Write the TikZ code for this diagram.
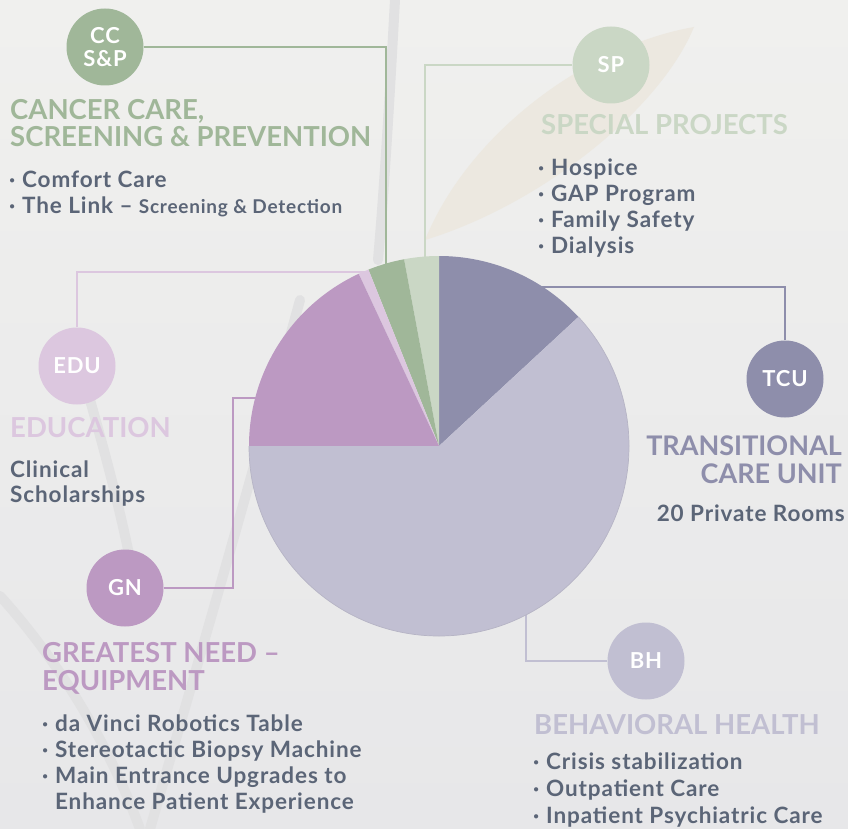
\documentclass[tikz,border=0pt]{standalone}
\usepackage{fontspec}
\setmainfont{Lato}
\newfontfamily\widefont[LetterSpace=4]{Lato}
\usetikzlibrary{positioning}
\definecolor{bgtop}{HTML}{F0F0EE}
\definecolor{bgbottom}{HTML}{E7E7E9}
\definecolor{stemgray}{HTML}{E1E1E2}
\definecolor{leafbeige}{HTML}{ECE8E0}
\definecolor{textgray}{HTML}{5B6577}
\definecolor{ccgreen}{HTML}{A0B799}
\definecolor{spgreen}{HTML}{CAD7C5}
\definecolor{tcublue}{HTML}{8E8EAB}
\definecolor{bhlilac}{HTML}{C1BFD2}
\definecolor{gnpurple}{HTML}{BC99C2}
\definecolor{edupink}{HTML}{DCC7DF}
\definecolor{pieedge}{HTML}{B6B4C5}
\tikzstyle{badge} = [circle, minimum size=77pt, inner sep=0pt, text=white, font=\widefont\bfseries\fontsize{22}{23}\selectfont, align=center]
\tikzstyle{heading} = [anchor=base west, inner sep=0pt, align=left, font=\bfseries\fontsize{27.5}{27.5}\selectfont]
\tikzstyle{items} = [anchor=base west, inner sep=0pt, align=left, text=textgray, font=\widefont\bfseries\fontsize{22.5}{25.5}\selectfont]
\tikzstyle{link} = [line width=2pt]
\tikzstyle{stem} = [stemgray, line width=10pt, line cap=round]
\newcommand{\itemdot}{·\hspace{0.3em}}

\begin{document}
\begin{tikzpicture}[x=1pt, y=1pt]
    \useasboundingbox (0,0) rectangle (848,-829);
    \shade [top color=bgtop, bottom color=bgbottom] (0,0) rectangle (848,-829);

    % Faint plant in the background
    \fill [leafbeige] (425,-240) .. controls (470,-130) and (590,-45) .. (694,-27)
        .. controls (660,-110) and (540,-205) .. (425,-240) -- cycle;
    \draw [stem] (0,-596) .. controls (40,-640) and (100,-720) .. (140,-829);
    \draw [stem] (150,-829) .. controls (190,-690) and (240,-520) .. (300,-300);
    \draw [stem] (395,0) .. controls (390,-90) and (385,-180) .. (378,-260);
    \draw [stem] (90,-400) .. controls (110,-470) and (125,-530) .. (135,-585);

    % Place the badges
    \node [badge, fill=ccgreen] (cc) at (105,-47) {CC\\S\&P};
    \node [badge, fill=spgreen] (sp) at (611,-65) {SP};
    \node [badge, fill=tcublue] (tcu) at (785,-379) {TCU};
    \node [badge, fill=edupink] (edu) at (77,-366) {EDU};
    \node [badge, fill=gnpurple] (gn) at (125,-588) {GN};
    \node [badge, fill=bhlilac] (bh) at (646,-661) {BH};

    % Ends of the leader lines, under the pie
    \coordinate (pie) at (439,-446);
    \coordinate (ccend) at (386,-268);
    \coordinate (spend) at (425,-262);
    \coordinate (tcuend) at (520,-287);
    \coordinate (eduend) at (370,-272);
    \coordinate (gnbend) at (233,-398);
    \coordinate (gnend) at (262,-398);
    \coordinate (bhend) at (526,-600);

    % Connect the badges
    \draw [link, ccgreen] (cc.east) -| (ccend);
    \draw [link, spgreen] (sp.west) -| (spend);
    \draw [link, tcublue] (tcu.north) |- (tcuend);
    \draw [link, edupink] (edu.north) |- (eduend);
    \draw [link, gnpurple] (gn.east) -| (gnbend) -- (gnend);
    \draw [link, bhlilac] (bh.west) -| (bhend);

    % The pie
    \fill [tcublue] (pie) -- ++(42.8:190pt) arc (42.8:90:190pt) -- cycle;
    \fill [spgreen] (pie) -- ++(90:190pt) arc (90:100.6:190pt) -- cycle;
    \fill [ccgreen] (pie) -- ++(100.6:190pt) arc (100.6:111.8:190pt) -- cycle;
    \fill [edupink] (pie) -- ++(111.8:190pt) arc (111.8:115:190pt) -- cycle;
    \fill [gnpurple] (pie) -- ++(115:190pt) arc (115:180:190pt) -- cycle;
    \fill [bhlilac] (pie) -- ++(180:190pt) arc (180:402.8:190pt) -- cycle;
    \draw [pieedge, line width=0.7pt] (pie) ++(180:190pt) arc (180:402.8:190pt);

    % Place the texts (multi-line nodes sit on their last baseline)
    \node [heading, text=ccgreen] (cchead) at (10,-147) {CANCER CARE,\\SCREENING \& PREVENTION};
    \node [items] (ccitems) at (9,-213) {\itemdot Comfort Care\\\itemdot The Link – {\fontsize{19}{25.5}\selectfont Screening \& Detection}};
    \node [heading, text=spgreen] (sphead) at (541,-135) {SPECIAL PROJECTS};
    \node [items, font=\widefont\bfseries\fontsize{22.5}{26}\selectfont] (spitems) at (538,-253) {\itemdot Hospice\\\itemdot GAP Program\\\itemdot Family Safety\\\itemdot Dialysis};
    \node [heading, text=tcublue, anchor=base east, align=right, font=\bfseries\fontsize{27}{28}\selectfont] (tcuhead) at (842,-483) {TRANSITIONAL\\CARE UNIT};
    \node [items, anchor=base east] (tcuitems) at (845,-521) {20 Private Rooms};
    \node [heading, text=edupink] (eduhead) at (10,-437) {EDUCATION};
    \node [items, font=\widefont\bfseries\fontsize{22.5}{25}\selectfont] (eduitems) at (10,-502) {Clinical\\Scholarships};
    \node [heading, text=gnpurple, font=\bfseries\fontsize{27.5}{28}\selectfont] (gnhead) at (42,-690) {GREATEST NEED –\\EQUIPMENT};
    \node [items, font=\widefont\bfseries\fontsize{22.5}{26}\selectfont] (gnitems) at (42,-809) {\itemdot da Vinci Robotics Table\\\itemdot Stereotactic Biopsy Machine\\\itemdot Main Entrance Upgrades to\\\phantom{\itemdot}Enhance Patient Experience};
    \node [heading, text=bhlilac] (bhhead) at (534,-734) {BEHAVIORAL HEALTH};
    \node [items, font=\widefont\bfseries\fontsize{22.5}{26.7}\selectfont] (bhitems) at (533,-823) {\itemdot Crisis stabilization\\\itemdot Outpatient Care\\\itemdot Inpatient Psychiatric Care};
\end{tikzpicture}
\end{document}
